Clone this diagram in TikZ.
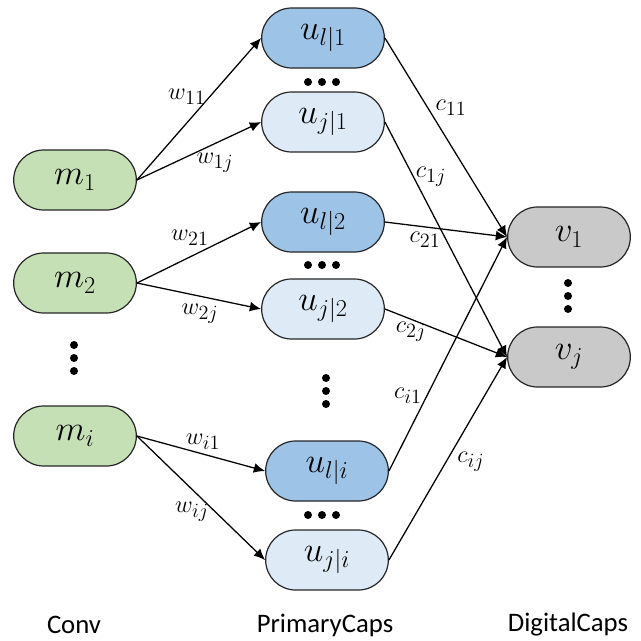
\documentclass[tikz,border=0pt]{standalone}
\usepackage{fontspec}
\setmainfont{Carlito}
\usetikzlibrary{arrows.meta,shapes.misc}

\definecolor{convgreen}{HTML}{C5E0B4}
\definecolor{capdark}{HTML}{9DC3E6}
\definecolor{caplight}{HTML}{DEEBF7}
\definecolor{digigray}{HTML}{C9C9C9}

\tikzset{
	capsule/.style={rounded rectangle, draw=black!85, line width=0.85pt, minimum width=3.3cm, minimum height=1.5cm, font=\fontsize{24}{28}\selectfont},
	convnode/.style={capsule, fill=convgreen},
	primdark/.style={capsule, fill=capdark},
	primlight/.style={capsule, fill=caplight},
	dignode/.style={capsule, fill=digigray},
	wlbl/.style={font=\fontsize{19}{22}\selectfont, inner sep=0pt},
	layerlbl/.style={font=\fontsize{19}{22}\selectfont},
	conn/.style={-{Latex[length=8pt,width=7pt]}, line width=0.9pt}
}

\begin{document}
\begin{tikzpicture}[x=0.025cm,y=-0.025cm]
	\useasboundingbox (0,0) rectangle (641,641);

	\node[convnode] (m1) at (75,180) {$m_1$};
	\node[convnode] (m2) at (75,283) {$m_2$};
	\node[convnode] (mi) at (75,436) {$m_i$};

	\node[primdark] (ul1) at (323,38) {$u_{l|1}$};
	\node[primlight] (uj1) at (323,122) {$u_{j|1}$};
	\node[primdark] (ul2) at (323,222) {$u_{l|2}$};
	\node[primlight] (uj2) at (323,309) {$u_{j|2}$};
	\node[primdark] (uli) at (327,471) {$u_{l|i}$};
	\node[primlight] (uji) at (327,560) {$u_{j|i}$};

	\node[dignode] (v1) at (569,237) {$v_1$};
	\node[dignode] (vj) at (569,357) {$v_j$};

	\foreach \yy in {345,358,371}
		\fill (74,\yy) circle (4);
	\foreach \yy in {378,391,404}
		\fill (326,\yy) circle (4);
	\foreach \yy in {283,296,309}
		\fill (568,\yy) circle (4);
	\foreach \yy in {82,265,515}
		\foreach \xx in {308,322,336}
			\fill (\xx,\yy) circle (4);

	\draw[conn] (m1.east) -- (ul1.west);
	\draw[conn] (m1.east) -- (uj1.west);
	\draw[conn] (m2.east) -- (ul2.west);
	\draw[conn] (m2.east) -- (uj2.west);
	\draw[conn] (mi.east) -- (uli.west);
	\draw[conn] (mi.east) -- (uji.west);

	\draw[conn] (ul1.east) -- (v1.west);
	\draw[conn] (uj1.east) -- (vj.west);
	\draw[conn] (ul2.east) -- (v1.west);
	\draw[conn] (uj2.east) -- (vj.west);
	\draw[conn] (uli.east) -- (v1.west);
	\draw[conn] (uji.east) -- (vj.west);

	\node[wlbl] (w11) at (187,97) {$w_{11}$};
	\node[wlbl] (w1j) at (215,163) {$w_{1j}$};
	\node[wlbl] (w21) at (190,238) {$w_{21}$};
	\node[wlbl] (w2j) at (200,314) {$w_{2j}$};
	\node[wlbl] (wi1) at (203,442) {$w_{i1}$};
	\node[wlbl] (wij) at (192,512) {$w_{ij}$};

	\node[wlbl] (c11) at (451,108) {$c_{11}$};
	\node[wlbl] (c1j) at (431,177) {$c_{1j}$};
	\node[wlbl] (c21) at (425,240) {$c_{21}$};
	\node[wlbl] (c2j) at (411,332) {$c_{2j}$};
	\node[wlbl] (ci1) at (408,396) {$c_{i1}$};
	\node[wlbl] (cij) at (471,462) {$c_{ij}$};

	\node[layerlbl] (conv) at (74,625) {Conv};
	\node[layerlbl] (prim) at (325,625) {PrimaryCaps};
	\node[layerlbl] (digi) at (568,625) {DigitalCaps};
\end{tikzpicture}
\end{document}
